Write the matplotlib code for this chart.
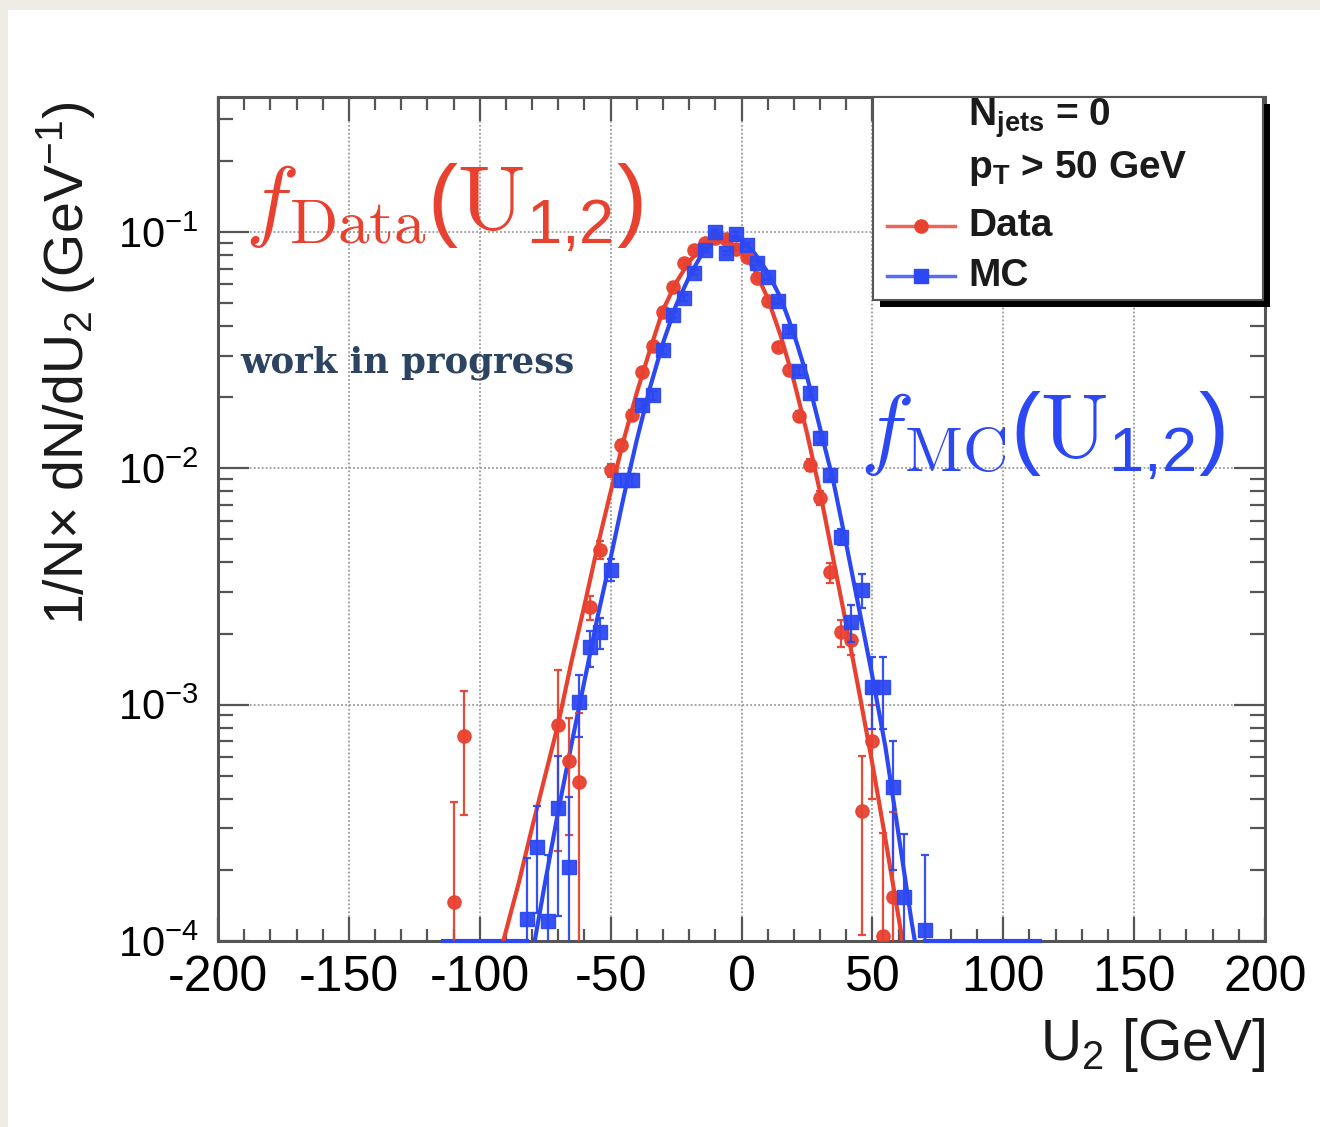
import numpy as np
import matplotlib.pyplot as plt
from matplotlib.patches import Rectangle
from matplotlib.lines import Line2D
from matplotlib.ticker import MultipleLocator, LogLocator, NullFormatter, LogFormatterSciNotation

plt.rcParams['font.family'] = ['Liberation Sans', 'DejaVu Sans']
plt.rcParams['mathtext.fontset'] = 'custom'
plt.rcParams['mathtext.rm'] = 'Liberation Sans'
plt.rcParams['mathtext.it'] = 'Liberation Sans:italic'
plt.rcParams['mathtext.bf'] = 'Liberation Sans:bold'
plt.rcParams['mathtext.default'] = 'regular'

W, H = 1320, 1127
RED = '#e8412f'
BLUE = '#2c48f2'

# U2 distribution, 4 GeV bins (bin centres)
data_u = [-110, -106, -70, -66, -62, -58, -54, -50, -46, -42, -38, -34, -30, -26,
          -22, -18, -14, -10, -6, -2, 2, 6, 10, 14, 18, 22, 26, 30, 34, 38, 42,
          46, 50, 54, 58]
data_y = [1.46e-4, 7.4e-4, 8.2e-4, 5.8e-4, 4.7e-4, 2.59e-3, 4.52e-3, 9.8e-3,
          1.25e-2, 1.68e-2, 2.56e-2, 3.3e-2, 4.6e-2, 5.85e-2, 7.4e-2, 8.4e-2,
          9.0e-2, 9.4e-2, 9.3e-2, 8.5e-2, 7.8e-2, 6.4e-2, 5.1e-2, 3.27e-2,
          2.61e-2, 1.67e-2, 1.03e-2, 7.5e-3, 3.63e-3, 2.02e-3, 1.88e-3,
          3.56e-4, 7.0e-4, 1.05e-4, 1.53e-4]
data_err = [2.4e-4, 4.0e-4, 5.8e-4, 3.0e-4, 4.5e-4, 3.0e-4, 4.0e-4, 6e-4, 7e-4,
            8e-4, 1.0e-3, 1.2e-3, 1.4e-3, 1.6e-3, 1.8e-3, 1.9e-3, 2.0e-3, 2.0e-3,
            2.0e-3, 1.9e-3, 1.8e-3, 1.7e-3, 1.5e-3, 1.2e-3, 1.1e-3, 8e-4, 6e-4,
            5e-4, 3.5e-4, 2.6e-4, 2.5e-4, 2.5e-4, 3.0e-4, 1.8e-4, 2.0e-4]

mc_u = [-82, -78, -74, -70, -66, -62, -58, -54, -50, -46, -42, -38, -34, -30,
        -26, -22, -18, -14, -10, -6, -2, 2, 6, 10, 14, 18, 22, 26, 30, 34, 38,
        42, 46, 50, 54, 58, 62, 70]
mc_y = [1.24e-4, 2.51e-4, 1.21e-4, 3.67e-4, 2.06e-4, 1.03e-3, 1.75e-3, 2.02e-3,
        3.73e-3, 8.9e-3, 8.9e-3, 1.86e-2, 2.04e-2, 3.17e-2, 4.46e-2, 5.26e-2,
        6.71e-2, 8.39e-2, 1.0e-1, 8.15e-2, 9.8e-2, 8.81e-2, 7.4e-2, 6.45e-2,
        5.11e-2, 3.81e-2, 2.58e-2, 2.09e-2, 1.35e-2, 9.4e-3, 5.13e-3, 2.24e-3,
        3.06e-3, 1.19e-3, 1.19e-3, 4.5e-4, 1.53e-4, 1.11e-4]
mc_err = [1.0e-4, 1.2e-4, 1.1e-4, 2.4e-4, 2.0e-4, 3.0e-4, 3.0e-4, 3.0e-4, 4e-4,
          6e-4, 6e-4, 8e-4, 9e-4, 1.1e-3, 1.3e-3, 1.4e-3, 1.6e-3, 1.8e-3, 2.0e-3,
          1.8e-3, 2.0e-3, 1.9e-3, 1.7e-3, 1.6e-3, 1.4e-3, 1.2e-3, 1.0e-3, 9e-4,
          7e-4, 5e-4, 4e-4, 4e-4, 5e-4, 4e-4, 4e-4, 2.5e-4, 1.3e-4, 1.2e-4]
# empty MC bins, drawn along the lower edge
mc_empty_lo = [-114, -82]
mc_empty_hi = [70, 114]

# fitted shapes, log10 of the density
red_fit_u = [-91, -85, -80, -75, -70, -65, -60, -55, -50, -45, -40, -35, -30, -25,
             -20, -15, -10, -5, 0, 5, 10, 15, 20, 25, 30, 35, 40, 45, 50, 55, 60, 62]
red_fit_log10 = [-4.0, -3.75, -3.52, -3.30, -3.08, -2.82, -2.58, -2.33, -2.10, -1.88,
                 -1.68, -1.50, -1.33, -1.215, -1.125, -1.065, -1.035, -1.04, -1.08,
                 -1.16, -1.28, -1.44, -1.63, -1.85, -2.10, -2.38, -2.66, -2.95, -3.25,
                 -3.57, -3.90, -4.03]
blue_fit_u = [-79, -75, -70, -65, -60, -55, -50, -45, -40, -35, -30, -25, -20, -15,
              -10, -5, 0, 5, 10, 15, 20, 25, 30, 35, 40, 45, 50, 55, 60, 65, 67]
blue_fit_log10 = [-4.0, -3.75, -3.45, -3.17, -2.90, -2.63, -2.38, -2.12, -1.88, -1.66,
                  -1.47, -1.31, -1.19, -1.09, -1.035, -1.02, -1.035, -1.09, -1.17,
                  -1.28, -1.43, -1.61, -1.83, -2.05, -2.32, -2.60, -2.88, -3.18, -3.55,
                  -3.92, -4.05]

YMIN, YMAX = 1e-4, 0.3724


def fx(px):
    return px / W


def fy(py):
    return 1 - py / H


fig = plt.figure(figsize=(W / 100, H / 100), dpi=100, facecolor='#efece6')
fig.add_artist(Rectangle((fx(8), 0), 1, fy(10), transform=fig.transFigure,
                         facecolor='white', edgecolor='none', zorder=0))

ax = fig.add_axes([fx(218), fy(941), fx(1265) - fx(218), fy(97) - fy(941)])
ax.set_facecolor('white')
ax.set_yscale('log')
ax.set_xlim(-200, 200)
ax.set_ylim(YMIN, YMAX)

# grid
grid_kw = dict(color='#9a9a9a', lw=1.3, ls=(0, (1, 1.2)), zorder=1)
for gx in [-150, -100, -50, 0, 50, 100, 150]:
    ax.axvline(gx, **grid_kw)
for gy in [1e-3, 1e-2, 1e-1]:
    ax.axhline(gy, **grid_kw)

# empty bins
ax.plot(mc_empty_lo, [YMIN, YMIN], color=BLUE, lw=3, clip_on=False, zorder=3)
ax.plot(mc_empty_hi, [YMIN, YMIN], color=BLUE, lw=3, clip_on=False, zorder=3)

# fits
ax.plot(red_fit_u, 10 ** np.array(red_fit_log10), color=RED, lw=3, zorder=4)
ax.plot(blue_fit_u, 10 ** np.array(blue_fit_log10), color=BLUE, lw=3, zorder=4)

# points with errors
ax.errorbar(data_u, data_y, yerr=data_err, fmt='o', color=RED, ms=9.5,
            elinewidth=1.6, capsize=3, capthick=1.6, alpha=0.95, zorder=5)
ax.errorbar(mc_u, mc_y, yerr=mc_err, fmt='s', color=BLUE, ms=9.5,
            elinewidth=1.6, capsize=3, capthick=1.6, alpha=0.95, zorder=6)

# axes styling
for s in ax.spines.values():
    s.set_color('#555555')
    s.set_linewidth(2.2)
ax.xaxis.set_major_locator(MultipleLocator(50))
ax.xaxis.set_minor_locator(MultipleLocator(10))
ax.yaxis.set_major_locator(LogLocator(base=10, numticks=10))
ax.yaxis.set_minor_locator(LogLocator(base=10, subs=np.arange(2, 10), numticks=20))
ax.yaxis.set_minor_formatter(NullFormatter())
ax.yaxis.set_major_formatter(LogFormatterSciNotation())
ax.tick_params(axis='both', which='both', direction='in', top=True, right=True,
               color='#555555', width=1.6)
ax.tick_params(axis='x', which='major', length=17, labelsize=36, pad=10)
ax.tick_params(axis='x', which='minor', length=9)
ax.tick_params(axis='y', which='major', length=22, labelsize=30, pad=14)
ax.tick_params(axis='y', which='minor', length=11)
ax.set_xticks([-200, -150, -100, -50, 0, 50, 100, 150, 200])
ax.set_xticklabels(['-200', '-150', '-100', '-50', '0', '50', '100', '150', '200'])

fig.text(fx(1265), fy(1045), r'U$_2$ [GeV]', fontsize=41, ha='right', va='center',
         color='#1a1a1a')
fig.text(fx(66), fy(363), r'1/N$\times$ dN/dU$_2$ (GeV$^{-1}$)', fontsize=40,
         rotation=90, ha='center', va='center', color='#1a1a1a')

# fit labels
fig.text(fx(245), fy(230), r'$\mathit{f}_{\mathrm{Data}}(\mathrm{U}_{1{,}2})$',
         fontsize=65, color=RED, math_fontfamily='cm', ha='left', va='baseline')
fig.text(fx(860), fy(458), r'$\mathit{f}_{\mathrm{MC}}(\mathrm{U}_{1{,}2})$',
         fontsize=65, color=BLUE, math_fontfamily='cm', ha='left', va='baseline')
fig.text(fx(240), fy(372), 'work in progress', fontsize=25.5, color='#2c4462',
         family='DejaVu Serif', weight='bold', ha='left', va='baseline')

# legend box with drop shadow
fig.add_artist(Rectangle((fx(880), fy(307)), fx(1270) - fx(880), fy(104) - fy(307),
                         transform=fig.transFigure, facecolor='black',
                         edgecolor='none', zorder=7))
fig.add_artist(Rectangle((fx(873), fy(300)), fx(1263) - fx(873), fy(97) - fy(300),
                         transform=fig.transFigure, facecolor='white',
                         edgecolor='#555555', lw=1.5, zorder=8))
lg_kw = dict(fontsize=28, weight='bold', ha='left', va='center', color='#1a1a1a',
             zorder=9)
fig.text(fx(968), fy(118), r'N$_{\mathbf{jets}}$ = 0', **lg_kw)
fig.text(fx(968), fy(168), r'p$_{\mathbf{T}}$ > 50 GeV', **lg_kw)
fig.text(fx(968), fy(226), 'Data', **lg_kw)
fig.text(fx(968), fy(276), 'MC', **lg_kw)
fig.add_artist(Line2D([fx(887), fx(955)], [fy(226), fy(226)], transform=fig.transFigure,
                      color=RED, lw=2.5, alpha=0.8, zorder=9))
fig.add_artist(Line2D([fx(921)], [fy(226)], transform=fig.transFigure, marker='o',
                      ms=9.5, color=RED, zorder=10))
fig.add_artist(Line2D([fx(887), fx(955)], [fy(276), fy(276)], transform=fig.transFigure,
                      color=BLUE, lw=2.5, alpha=0.8, zorder=9))
fig.add_artist(Line2D([fx(921)], [fy(276)], transform=fig.transFigure, marker='s',
                      ms=9.5, color=BLUE, zorder=10))

fig.savefig('out.png', dpi=100, facecolor=fig.get_facecolor())
